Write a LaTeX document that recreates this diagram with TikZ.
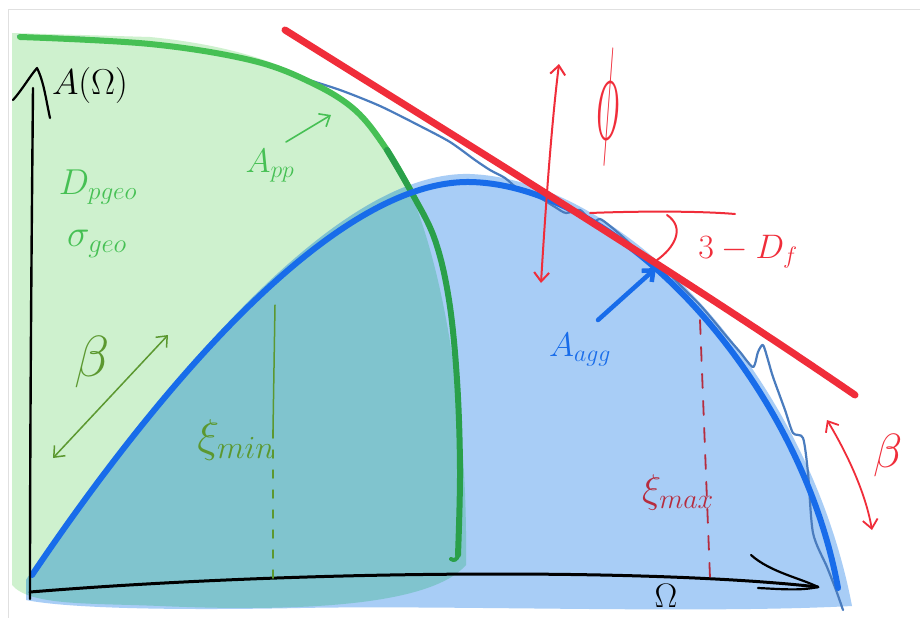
\RequirePackage{fix-cm}
\documentclass[tikz,border=0pt]{standalone}
\usetikzlibrary{arrows.meta}
\definecolor{gfill}{RGB}{206,241,206}
\definecolor{bfill}{RGB}{168,205,246}
\definecolor{tfill}{RGB}{128,196,206}
\definecolor{gline}{RGB}{70,192,84}
\definecolor{gdark}{RGB}{42,160,74}
\definecolor{bline}{RGB}{24,108,234}
\definecolor{sline}{RGB}{74,124,190}
\definecolor{rline}{RGB}{240,45,58}
\definecolor{olivegr}{RGB}{92,152,48}
\definecolor{dred}{RGB}{182,44,62}
\begin{document}
\begin{tikzpicture}[x=1pt,y=-1pt,
  barb/.style={-{Straight Barb[length=9pt,width=15pt]}},
  dbarb/.style={{Straight Barb[length=9pt,width=15pt]}-{Straight Barb[length=9pt,width=15pt]}},
  lbl/.style={inner sep=0pt, outer sep=0pt},
  hand/.style={line cap=round, line join=round},
]
\useasboundingbox (0,0) rectangle (920,618);
\fill[white] (0,0) rectangle (920,618);
\draw[black!12, line width=1] (8,618) -- (8,10) -- (920,10);

\def\greenregion{(12,33) -- (150,37) .. controls (280,50) and (350,90) .. (395,160) .. controls (440,240) and (468,400) .. (466,565) .. controls (430,606) and (300,612) .. (160,606) .. controls (90,603) and (30,606) .. (12,585) -- cycle}
\def\blueregion{(26,580) .. controls (150,400) and (330,170) .. (470,174) .. controls (625,180) and (808,375) .. (852,606) .. controls (700,614) and (450,605) .. (300,608) .. controls (150,611) and (60,607) .. (26,600) -- cycle}

% washes
\fill[gfill] \greenregion;
\fill[bfill] \blueregion;
\begin{scope}
  \clip \greenregion;
  \fill[tfill] \blueregion;
\end{scope}

% jagged thin outline
\draw[sline, line width=2.2, hand] plot[smooth, tension=0.5] coordinates {(18,36) (100,39) (200,50)};
\draw[sline, line width=2.2, hand] plot[smooth, tension=0.45] coordinates {(296,76) (340,90) (380,106) (420,126) (450,142) (475,160) (490,170) (505,178) (517,188) (530,193) (542,199) (555,207) (566,213) (580,210) (592,222) (600,219) (610,226) (623,237) (637,250) (650,258) (663,267) (680,285) (700,305) (713,320) (727,337) (740,352) (753,367) (758,352) (763,345) (768,360) (773,377) (785,410) (793,433) (803,438) (808,473) (813,533) (827,567) (836,590) (843,610)};

% green A_pp outline
\draw[gline, line width=6, hand] plot[smooth, tension=0.6] coordinates {(20,37) (150,44) (250,60) (310,82) (355,110) (387,150) (413,195)};
\draw[gdark, line width=6, hand] plot[smooth, tension=0.6] coordinates {(387,150) (413,195) (435,240) (449,300) (457,380) (460,470) (458,555)};
\draw[gdark, line width=4, hand] (458,555) .. controls (457,560) and (454,561) .. (451,559);

% blue aggregate arc
\draw[bline, line width=6, hand] (32,575) .. controls (150,400) and (330,180) .. (470,182) .. controls (620,185) and (800,380) .. (838,588);

% red tangent line
\coordinate (t1) at (285,30);
\coordinate (t2) at (855,395);
\draw[rline, line width=7, hand] (t1) .. controls (480,152) and (680,275) .. (t2);

% axes
\coordinate (O) at (30,599);
\coordinate (ytip) at (37,68);
\coordinate (xtip) at (818,587);
\draw[black, line width=2.4, hand] (O) .. controls (30,400) and (32,200) .. (33,88);
\draw[black, line width=2.2, hand] (13,100) .. controls (22,90) and (30,76) .. (ytip) .. controls (44,82) and (46,100) .. (50,118);
\draw[black, line width=3, hand] (30,592) .. controls (300,570) and (650,568) .. (xtip);
\draw[black, line width=2.2, hand] (751,555) .. controls (770,572) and (800,578) .. (xtip) .. controls (800,591) and (780,589) .. (758,588);
\node[lbl, font=\fontsize{36}{36}\selectfont] (ylab) at (90,86) {$A(\Omega)$};
\node[lbl, font=\fontsize{34}{34}\selectfont] (xlab) at (666,596) {$\Omega$};

% green labels
\node[lbl, text=gline, font=\fontsize{36}{36}\selectfont] (dpgeo) at (98,187) {$D_{pgeo}$};
\node[lbl, text=gline, font=\fontsize{38}{38}\selectfont] (sgeo) at (97,244) {$\sigma_{geo}$};
\node[lbl, text=gline, font=\fontsize{34}{34}\selectfont] (app) at (270,166) {$A_{pp}$};
\coordinate (appa) at (286,142);
\coordinate (appb) at (331,115);
\draw[gline, line width=1.6, barb, hand] (appa) -- (appb);

% green beta
\node[lbl, text=olivegr, font=\fontsize{58}{58}\selectfont] (betag) at (92,362) {$\beta$};
\coordinate (bg1) at (53,458);
\coordinate (bg2) at (168,335);
\draw[olivegr, line width=1.5, dbarb, hand] (bg1) -- (bg2);

% xi min
\node[lbl, text=olivegr, font=\fontsize{46}{46}\selectfont] (ximin) at (236,440) {$\xi_{min}$};
\coordinate (xm1) at (275,305);
\coordinate (xm2) at (273,430);
\coordinate (xm3) at (273,578);
\draw[olivegr, line width=1.5, hand] (xm1) -- (xm2);
\draw[olivegr, line width=1.5, hand, dash pattern=on 8pt off 12pt] (xm2) -- (xm3);

% red vertical double arrow and phi
\coordinate (rv1) at (541,283);
\coordinate (rv2) at (559,64);
\draw[rline, line width=2, dbarb, hand] (rv1) .. controls (546,200) and (552,120) .. (rv2);
\node[lbl, text=rline, font=\fontsize{40}{40}\selectfont] (phi) at (608,106) {\scalebox{1}[3.3]{$\phi$}};

% angle 3-Df
\coordinate (h1) at (590,213);
\coordinate (h2) at (735,214);
\draw[rline, line width=2, hand] (h1) .. controls (640,211) and (700,211) .. (h2);
\coordinate (a1) at (667,215);
\coordinate (a2) at (657,260);
\draw[rline, line width=2, hand] (a1) .. controls (686,228) and (674,248) .. (a2);
\node[lbl, text=rline, font=\fontsize{34}{34}\selectfont] (df) at (748,252) {$3-D_f$};

% blue arrow and A_agg
\coordinate (ba1) at (598,320);
\coordinate (ba2) at (656,268);
\draw[bline, line width=4.5, barb, hand] (ba1) -- (ba2);
\node[lbl, text=bline, font=\fontsize{34}{34}\selectfont] (aagg) at (580,350) {$A_{agg}$};

% xi max
\coordinate (xx1) at (700,320);
\coordinate (xx2) at (710,578);
\draw[dred, line width=1.8, hand, dash pattern=on 14pt off 13pt] (xx1) -- (xx2);
\node[lbl, text=dred, font=\fontsize{40}{40}\selectfont] (ximax) at (678,492) {$\xi_{max}$};

% red beta
\coordinate (rb1) at (827,420);
\coordinate (rb2) at (872,530);
\draw[rline, line width=1.8, dbarb, hand] (rb1) .. controls (845,450) and (865,490) .. (rb2);
\node[lbl, text=rline, font=\fontsize{48}{48}\selectfont] (betar) at (888,455) {$\beta$};
\end{tikzpicture}
\end{document}
